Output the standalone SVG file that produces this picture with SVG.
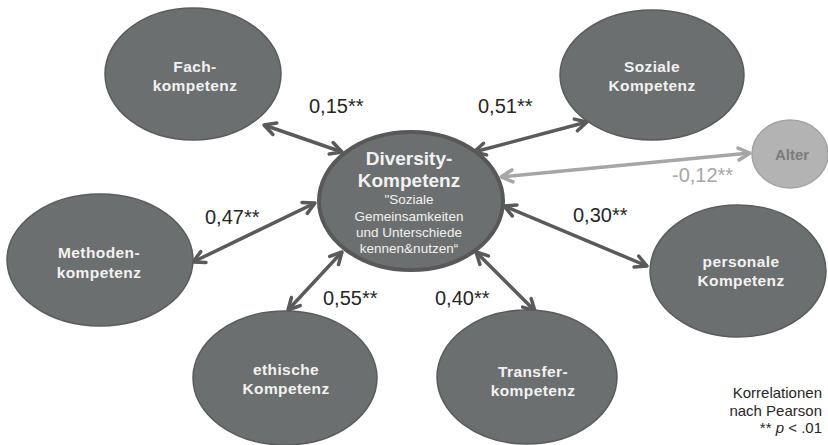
<svg xmlns="http://www.w3.org/2000/svg" width="828" height="445" viewBox="0 0 828 445">
<style>
.node{fill:#6c6f6f;stroke:#5a5c5c;stroke-width:1.5}
.lbl{font-family:"Liberation Sans",Arial,sans-serif;font-weight:bold;font-size:15.5px;letter-spacing:0.4px;fill:#f2f2f2;text-anchor:middle}
.conn{stroke:#5a5a5a;stroke-width:3.5;fill:none;marker-start:url(#ah);marker-end:url(#ah)}
.connL{stroke:#a6a6a6;stroke-width:3.5;fill:none;marker-start:url(#ahL);marker-end:url(#ahL)}
.num{font-family:"Liberation Sans",Arial,sans-serif;font-size:20px;fill:#262626}
.note{font-family:"Liberation Sans",Arial,sans-serif;font-size:15px;fill:#262626;text-anchor:end}
</style>
<defs>
<marker id="ah" viewBox="0 0 14 14" refX="12.5" refY="7" markerWidth="14" markerHeight="14" markerUnits="userSpaceOnUse" orient="auto-start-reverse" overflow="visible">
<path d="M1,1 L12.5,7 L1,13" fill="none" stroke="#5a5a5a" stroke-width="3.5" stroke-linecap="round" stroke-linejoin="round"/>
</marker>
<marker id="ahL" viewBox="0 0 14 14" refX="12.5" refY="7" markerWidth="14" markerHeight="14" markerUnits="userSpaceOnUse" orient="auto-start-reverse" overflow="visible">
<path d="M1,1 L12.5,7 L1,13" fill="none" stroke="#a6a6a6" stroke-width="3.5" stroke-linecap="round" stroke-linejoin="round"/>
</marker>
</defs>
<rect width="828" height="445" fill="#ffffff"/>

<g id="connectors">
<line class="conn" x1="264" y1="125" x2="342" y2="152"/>
<line class="conn" x1="474" y1="152" x2="587" y2="122"/>
<line class="conn" x1="193" y1="262" x2="315" y2="203"/>
<line class="conn" x1="504" y1="206" x2="647" y2="266"/>
<line class="conn" x1="342" y1="252" x2="288" y2="310"/>
<line class="conn" x1="476" y1="252" x2="535" y2="311"/>
<line class="connL" x1="501" y1="177" x2="750" y2="153"/>
</g>

<g id="labels">
<text class="num" x="309" y="113">0,15**</text>
<text class="num" x="478" y="113">0,51**</text>
<text class="num" x="205" y="224">0,47**</text>
<text class="num" x="573" y="222">0,30**</text>
<text class="num" x="323" y="305">0,55**</text>
<text class="num" x="435" y="305">0,40**</text>
<text x="672" y="182" style="font-family:'Liberation Sans',Arial,sans-serif;font-size:20px;fill:#a6a6a6">-0,12**</text>
</g>

<g id="fach">
<ellipse class="node" cx="193" cy="74" rx="88" ry="66"/>
<text class="lbl" x="195" y="72">Fach-</text>
<text class="lbl" x="195" y="91">kompetenz</text>
</g>
<g id="soziale">
<ellipse class="node" cx="652" cy="75" rx="92" ry="65"/>
<text class="lbl" x="652" y="72">Soziale</text>
<text class="lbl" x="652" y="91">Kompetenz</text>
</g>
<g id="methoden">
<ellipse class="node" cx="100" cy="260" rx="93" ry="66"/>
<text class="lbl" x="99" y="258">Methoden-</text>
<text class="lbl" x="99" y="278">kompetenz</text>
</g>
<g id="personale">
<ellipse class="node" cx="738" cy="271" rx="88" ry="66"/>
<text class="lbl" x="741" y="267">personale</text>
<text class="lbl" x="741" y="286">Kompetenz</text>
</g>
<g id="ethische">
<ellipse class="node" cx="285" cy="378" rx="92" ry="67"/>
<text class="lbl" x="286" y="375">ethische</text>
<text class="lbl" x="286" y="394">Kompetenz</text>
</g>
<g id="transfer">
<ellipse class="node" cx="527" cy="377" rx="90" ry="67"/>
<text class="lbl" x="533" y="377">Transfer-</text>
<text class="lbl" x="533" y="396">kompetenz</text>
</g>
<g id="alter">
<ellipse cx="790" cy="154" rx="38" ry="34" fill="#b3b3b3" stroke="#a3a3a3" stroke-width="1.5"/>
<text x="792" y="160" style="font-family:'Liberation Sans',Arial,sans-serif;font-weight:bold;font-size:15px;fill:#7b7b7b;text-anchor:middle">Alter</text>
</g>
<g id="diversity">
<ellipse cx="411" cy="201" rx="92" ry="69" fill="#6c6f6f" stroke="#585858" stroke-width="4"/>
<text x="409" y="165" style="font-family:'Liberation Sans',Arial,sans-serif;font-weight:bold;font-size:19px;fill:#f2f2f2;text-anchor:middle">Diversity-</text>
<text x="409" y="187" style="font-family:'Liberation Sans',Arial,sans-serif;font-weight:bold;font-size:19px;fill:#f2f2f2;text-anchor:middle">Kompetenz</text>
<g style="font-family:'Liberation Sans',Arial,sans-serif;font-size:13.5px;fill:#f2f2f2;text-anchor:middle">
<text x="409" y="204">"Soziale</text>
<text x="409" y="221">Gemeinsamkeiten</text>
<text x="409" y="237">und Unterschiede</text>
<text x="409" y="253">kennen&amp;nutzen“</text>
</g>
</g>

<g id="note">
<text class="note" x="822" y="398">Korrelationen</text>
<text class="note" x="822" y="416">nach Pearson</text>
<text class="note" x="822" y="433">** <tspan font-style="italic">p</tspan> &lt; .01</text>
</g>
</svg>
